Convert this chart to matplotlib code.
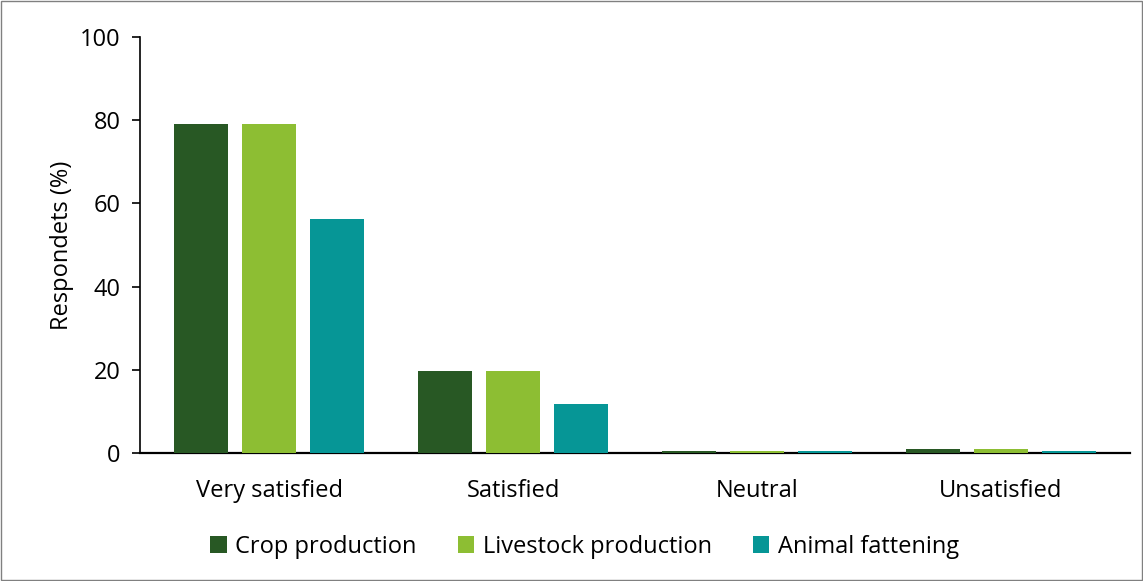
import numpy as np
import matplotlib.pyplot as plt
from matplotlib.patches import Rectangle

plt.rcParams['font.family'] = ['Open Sans', 'DejaVu Sans']

categories = ["Very satisfied", "Satisfied", "Neutral", "Unsatisfied"]
crop = [79.2, 19.6, 0.4, 0.9]
livestock = [79.2, 19.6, 0.4, 0.9]
fattening = [56.3, 11.7, 0.4, 0.4]
series = ["Crop production", "Livestock production", "Animal fattening"]
colors = ["#285824", "#8dbe33", "#069696"]

fig = plt.figure(figsize=(11.43, 5.81), dpi=100)
ax = fig.add_axes([0.1225, 0.2203, 0.8661, 0.7160])

x = np.arange(len(categories))
w = 0.221
off = 0.279
for i, (vals, name, c) in enumerate(zip([crop, livestock, fattening], series, colors)):
    ax.bar(x + (i - 1) * off, vals, w, color=c, label=name, zorder=2)

ax.set_xlim(-0.53, 3.53)
ax.set_ylim(0, 100)
ax.set_yticks([0, 20, 40, 60, 80, 100])
ax.set_xticks(x)
ax.set_xticklabels(categories)
ax.tick_params(axis='y', labelsize=17, length=6, width=1.2, pad=8)
ax.tick_params(axis='x', labelsize=17, length=0, pad=19)
ax.set_ylabel("Respondets (%)", fontsize=17, labelpad=4)

for s in ["top", "right"]:
    ax.spines[s].set_visible(False)
ax.spines["left"].set_linewidth(1.2)
ax.spines["bottom"].set_linewidth(1.6)
ax.spines["bottom"].set_zorder(1)

ax.legend(loc="center", bbox_to_anchor=(0.449, -0.226), ncol=3, frameon=False,
          fontsize=17, handlelength=0.7, handleheight=0.7, handletextpad=0.35,
          columnspacing=1.75)

# thin frame around the whole figure
fig.patches.append(Rectangle((0.001, 0.001), 0.998, 0.997, transform=fig.transFigure,
                             fill=False, edgecolor="#808080", linewidth=1))

fig.savefig("out.png", dpi=100)
